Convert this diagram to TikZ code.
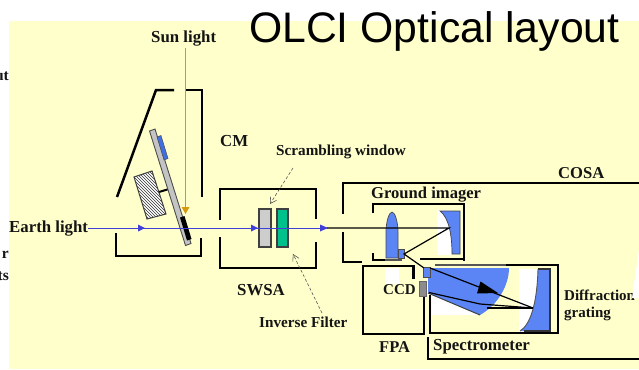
\documentclass[tikz,border=0pt]{standalone}
\usepackage{fontspec}
\setmainfont{Liberation Serif}
\newfontfamily\titlefont{Liberation Sans}
\definecolor{bgyellow}{HTML}{FFFFCC}
\definecolor{bluefill}{HTML}{5B85F5}
\definecolor{stripblue}{HTML}{3F6FE0}
\definecolor{rayblue}{HTML}{4040D8}
\definecolor{sunray}{HTML}{D49A12}
\definecolor{greenfill}{HTML}{00C08B}
\definecolor{plategrey}{HTML}{C4C4C4}
\definecolor{dimgrey}{HTML}{555555}
\usetikzlibrary{arrows.meta}
\tikzset{
  lab/.style={font=\fontsize{#1}{#1}\selectfont\bfseries,anchor=base west,inner sep=0pt,text=black!92},
  wall/.style={line width=2.8pt,draw=black,line cap=butt,line join=miter},
  wallthin/.style={line width=2.5pt,draw=black,line join=miter},
  beam/.style={line width=1.2pt,draw=black},
  bluepart/.style={fill=bluefill,draw=black!70,line width=.7pt},
  patch/.style={fill=white,draw=none},
  bluehead/.style={fill=rayblue,draw=none},
  callout/.style={densely dashed,draw=black!70,line width=.55pt,-{Straight Barb[length=6pt,width=7pt]}}
}
\begin{document}
\begin{tikzpicture}[x=1pt,y=-1pt]
\useasboundingbox (0,0) rectangle (639,369);
\clip (0,0) rectangle (639,369);
\fill[bgyellow] (9,21) rectangle (639,369);

% cut-off text at the left edge
\node[lab=15.5,anchor=base east] (fragA) at (9,81) {ut};
\node[lab=15.5,anchor=base east] (fragB) at (9,258) {r};
\node[lab=15.5,anchor=base east] (fragC) at (9,280) {ts};

% CM housing
\draw[wallthin] (174,90) -- (156,90) -- (117,197);
\draw[wallthin] (185,90) -- (202,90) -- (202,197);
\draw[wallthin] (116,233) -- (116,256) -- (201,256) -- (201,238);

% hatched block and support
\draw[line width=2pt] (159,192) -- (169,189);
\fill[white] (134,177) -- (152,171) -- (166,214) -- (147,219) -- cycle;
\begin{scope}
  \clip (134,177) -- (152,171) -- (166,214) -- (147,219) -- cycle;
  \foreach \k in {-72,-69,...,72} {\draw[line width=.6pt,black!80] (110+\k,165) -- (170+\k,225);}
\end{scope}
\draw[line width=1pt,black!75] (134,177) -- (152,171) -- (166,214) -- (147,219) -- cycle;

% sun light ray
\coordinate (sunA) at (185.5,48);
\coordinate (sunB) at (185.5,207);
\draw[sunray,line width=.9pt] (sunA) -- (sunB);
\fill[sunray] (181.5,207) -- (189.5,207) -- (185.5,214) -- cycle;

% folding plate
\draw[fill=plategrey,draw=black!70,line width=.9pt] (149.5,131) -- (155,129) -- (191,243.5) -- (185.5,245.5) -- cycle;
\draw[fill=stripblue,draw=black!70,line width=.5pt] (157,137) -- (161,135.5) -- (168,158.5) -- (164,160) -- cycle;
\fill[black] (180,217.5) -- (184.5,216) -- (191.5,239) -- (187,240.5) -- cycle;

% SWSA housing
\draw[wall] (220,220) -- (220,189) -- (316,189) -- (316,219);
\draw[wall] (220,237) -- (220,268) -- (316,268) -- (316,242);
\draw[fill=plategrey!85,draw=black!75,line width=1.1pt] (259,209) rectangle (271,247);
\draw[fill=greenfill,draw=black!75,line width=1.1pt] (277,209) rectangle (288,247);

% earth light ray
\coordinate (earthA) at (88,228);
\coordinate (earthB) at (327,228);
\draw[rayblue,line width=.9pt] (earthA) -- (earthB);
\fill[bluehead] (138,224.5) -- (145,228) -- (138,231.5) -- cycle;
\fill[bluehead] (251,224.5) -- (258,228) -- (251,231.5) -- cycle;
\fill[bluehead] (320,224.5) -- (328,228) -- (320,231.5) -- cycle;

% COSA housing
\draw[wall] (639,183) -- (343,183) -- (343,214);
\draw[wall] (343,232) -- (343,262) -- (362,262);
\draw[wall] (428,337) -- (428,359) -- (639,359);

% ground imager housing
\draw[wall] (373,213) -- (373,204) -- (464,204) -- (464,261);
\draw[wall] (373,253) -- (373,260) -- (386,260);
\draw[line width=2.8pt,dimgrey] (385,260) -- (402,260);
\draw[wall] (420,259) -- (464,259);

% ground imager optics
\fill[patch] (437,210) rectangle (452,255);
\draw[bluepart] (386,258) -- (386,232) .. controls (386,222) and (389,212) .. (392,212) .. controls (395,212) and (398,222) .. (398,232) -- (398,258) -- cycle;
\draw[fill=bluefill,draw=black!75,line width=.7pt] (440,211) -- (460,211) -- (460,254) -- (452,254) .. controls (452,235) and (449,218) .. (440,211) -- cycle;

% FPA
\fill[patch] (385,268) rectangle (399,284);
\draw[wall] (413.5,279) -- (413.5,266) -- (363,266) -- (363,334) -- (424,334) -- (424,297);
\draw[fill=gray!90,draw=black!60,line width=.6pt] (419,281) rectangle (426,296);

% spectrometer housing
\fill[patch] (432,295) -- (480,315) -- (432,315) -- cycle;
\draw[wall] (505,265) -- (558,265) -- (558,333) -- (430,333) -- (430,295);
\draw[line width=2.8pt,dimgrey] (435,265) -- (506,265);

% spectrometer optics
\draw[fill=bluefill,draw=none] (428,268) -- (509,268) .. controls (509,285) and (498,305) .. (480,315) -- (428,293) -- cycle;
\draw[line width=1pt,black!75] (428,293) -- (480,315);
\fill[patch] (519,269) rectangle (550,332);
\draw[fill=bluefill,draw=none] (538,269) -- (550,269) -- (550,331) -- (520,331) .. controls (530,325) and (537,305) .. (538,269) -- cycle;
\draw[line width=.9pt,dimgrey] (538,269) .. controls (537,305) and (530,325) .. (520,331);
\draw[line width=1.3pt,black!80] (538,269) -- (550,269) -- (550,331) -- (524,331);

% small blue relay blocks
\draw[bluepart] (398,249) rectangle (404,258);
\draw[bluepart] (423,267) rectangle (430,277);

% black rays
\coordinate (rayIn) at (327,228);
\coordinate (rayFold) at (449,228);
\coordinate (rayRelay) at (404,254);
\coordinate (rayRelayB) at (424,268);
\coordinate (raySpec) at (430,268);
\coordinate (rayGrat) at (533,308);
\draw[beam] (rayIn) -- (rayFold) -- (rayRelay) -- (rayRelayB);
\draw[beam] (raySpec) -- (rayGrat);
\draw[beam] (429,292.5) -- (480,304) -- (rayGrat);
\draw[line width=2pt] (487,308) -- (rayGrat);
\fill[black] (480.5,281.5) -- (498,293) -- (477,293.5) -- cycle;

% callouts
\coordinate (scrA) at (293,168);
\coordinate (scrB) at (270,204);
\coordinate (invA) at (322,313);
\coordinate (invB) at (293,254);
\draw[callout] (scrA) -- (scrB);
\draw[callout] (invA) -- (invB);

% labels
\node[font=\fontsize{42.7}{42.7}\selectfont\titlefont,anchor=base west,inner sep=0pt] (title) at (249,43) {OLCI Optical layout};
\node[lab=16.8] (sun) at (151,42) {Sun light};
\node[lab=16.8] (cm) at (220,146) {CM};
\node[lab=15.2] (scr) at (276,155) {Scrambling window};
\node[lab=16.8] (earth) at (9,232) {Earth light};
\node[lab=16.8] (swsa) at (237,295) {SWSA};
\node[lab=15.2] (inv) at (259,327) {Inverse Filter};
\node[lab=16.6] (cosa) at (558,178) {COSA};
\node[lab=16.6] (gi) at (371,198) {Ground imager};
\node[lab=15] (ccd) at (383,294) {CCD};
\node[lab=16.5] (fpa) at (379,352) {FPA};
\node[lab=16.8] (spec) at (433,350) {Spectrometer};
\node[lab=15] (diff) at (564,300) {Diffraction};
\node[lab=15] (grat) at (564,317) {grating};
\fill[patch] (632,298) -- (639,250) -- (639,298) -- cycle;
\end{tikzpicture}
\end{document}
